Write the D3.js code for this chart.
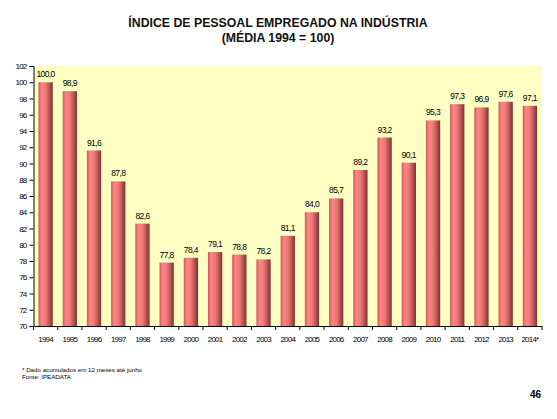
<!DOCTYPE html>
<html><head><meta charset="utf-8">
<script src="https://cdn.jsdelivr.net/npm/d3@7/dist/d3.min.js"></script>
<style>body{margin:0;background:#fff;}svg{display:block;}</style>
</head><body>
<script>
const categories = ["1994","1995","1996","1997","1998","1999","2000","2001","2002","2003","2004","2005","2006","2007","2008","2009","2010","2011","2012","2013","2014*"];
const values = [100.0,98.9,91.6,87.8,82.6,77.8,78.4,79.1,78.8,78.2,81.1,84.0,85.7,89.2,93.2,90.1,95.3,97.3,96.9,97.6,97.1];
const yTicks = [70,72,74,76,78,80,82,84,86,88,90,92,94,96,98,100,102];

const W = 557, H = 419;
const m = {left:33.5, right:557-542, top:66, bottom:419-326};
const svg = d3.select("body").append("svg").attr("width",W).attr("height",H);

const defs = svg.append("defs");
const g = defs.append("linearGradient").attr("id","barg").attr("x1","0%").attr("x2","100%");
[["0%","#c85a5a"],["22%","#ff8484"],["50%","#f07878"],["80%","#b05050"],["100%","#7a3030"]]
  .forEach(([o,c])=>g.append("stop").attr("offset",o).attr("stop-color",c));

const x = d3.scaleBand().domain(categories).range([m.left, W-m.right]).paddingInner(0.41).paddingOuter(0.205);
const y = d3.scaleLinear().domain([70,102]).range([H-m.bottom, m.top]);

svg.append("rect").attr("x",m.left).attr("y",m.top).attr("width",W-m.right-m.left).attr("height",H-m.bottom-m.top).attr("fill","#ffffc4");

svg.append("g").selectAll("rect").data(values).join("rect")
  .attr("x",(d,i)=>x(categories[i])).attr("width",x.bandwidth())
  .attr("y",d=>y(d)).attr("height",d=>y(70)-y(d)).attr("fill","url(#barg)");

const fmt = d=>d.toFixed(1).replace(".",",");
svg.append("g").selectAll("text").data(values).join("text")
  .attr("x",(d,i)=>x(categories[i])+x.bandwidth()/2).attr("y",d=>y(d)-5)
  .attr("text-anchor","middle").attr("font-family","Liberation Sans, Arial").attr("font-size",8.5)
  .style("letter-spacing","-0.6px")
  .text(fmt);

const ya = svg.append("g").attr("transform",`translate(${m.left},0)`)
  .call(d3.axisLeft(y).tickValues(yTicks).tickSize(4).tickPadding(3).tickFormat(d=>d));
ya.select(".domain").attr("stroke","#000");
ya.selectAll("text").attr("font-family","Liberation Sans, Arial").attr("font-size",8).style("letter-spacing","-0.8px").attr("fill","#000");

const xa = svg.append("g").attr("transform",`translate(0,${H-m.bottom})`)
  .call(d3.axisBottom(x).tickSize(0).tickPadding(10));
xa.select(".domain").attr("stroke","#000");
xa.selectAll("text").attr("font-family","Liberation Sans, Arial").attr("font-size",8).style("letter-spacing","-0.8px").attr("fill","#000");
const step = x.step();
const bounds = d3.range(categories.length+1).map(i=>m.left + i*step);
xa.selectAll("line.bt").data(bounds).join("line").attr("class","bt")
  .attr("x1",d=>d).attr("x2",d=>d).attr("y1",0).attr("y2",4).attr("stroke","#000");

const title = svg.append("text").attr("x",278).attr("text-anchor","middle")
  .attr("font-family","Liberation Sans, Arial").attr("font-weight","bold").attr("font-size",12.3).attr("fill","#111");
title.append("tspan").attr("x",278).attr("y",27).text("ÍNDICE DE PESSOAL EMPREGADO NA INDÚSTRIA");
title.append("tspan").attr("x",278).attr("y",42).text("(MÉDIA 1994 = 100)");

svg.append("text").attr("x",22).attr("y",372).attr("font-family","Liberation Sans, Arial").attr("font-size",6.2)
  .text("* Dado acumulados em 12 meses até junho");
svg.append("text").attr("x",22).attr("y",379).attr("font-family","Liberation Sans, Arial").attr("font-size",6.2)
  .text("Fonte: IPEADATA");
svg.append("text").attr("x",541).attr("y",398).attr("text-anchor","end").attr("font-family","Liberation Sans, Arial")
  .attr("font-weight","bold").attr("font-size",10).text("46");
</script>
</body></html>
